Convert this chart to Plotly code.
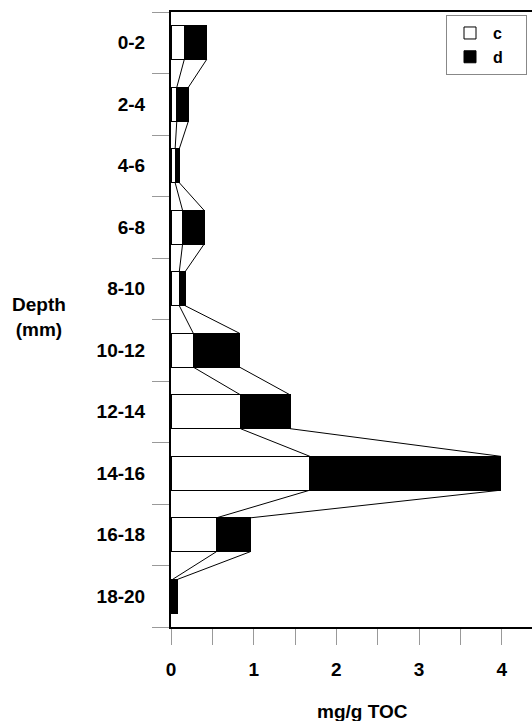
import plotly.graph_objects as go

# Depth intervals (top to bottom) and the two stacked components, mg/g TOC
depth = ["0-2", "2-4", "4-6", "6-8", "8-10", "10-12", "12-14", "14-16", "16-18", "18-20"]
series_names = ["c", "d"]
c_vals = [0.16, 0.07, 0.05, 0.14, 0.10, 0.27, 0.84, 1.68, 0.55, 0.02]
d_vals = [0.27, 0.14, 0.05, 0.26, 0.07, 0.56, 0.60, 2.31, 0.41, 0.06]
x_ticks = [0, 1, 2, 3, 4]

BAR_W = 0.55
FONT = "Liberation Sans, Arial, sans-serif"
PAD = "\u00a0" * 4  # right-hand padding inside the legend box

pos = list(range(len(depth)))
totals = [c + d for c, d in zip(c_vals, d_vals)]

fig = go.Figure()

fig.add_trace(go.Bar(
    y=pos, x=c_vals, orientation="h", width=BAR_W, name=series_names[0] + PAD,
    marker=dict(color="white", line=dict(color="black", width=1)),
))
fig.add_trace(go.Bar(
    y=pos, x=d_vals, orientation="h", width=BAR_W, name=series_names[1] + PAD,
    marker=dict(color="black", line=dict(color="black", width=1)),
))

# Series lines joining the segment ends of neighbouring bars
half = BAR_W / 2
for ends in (c_vals, totals):
    xs, ys = [], []
    for i in range(len(depth) - 1):
        xs += [ends[i], ends[i + 1], None]
        ys += [pos[i] + half, pos[i + 1] - half, None]
    fig.add_trace(go.Scatter(
        x=xs, y=ys, mode="lines", showlegend=False, hoverinfo="skip",
        line=dict(color="black", width=1),
    ))

x_max = (532 - 170.7) / 82.75

fig.update_layout(
    width=532, height=721,
    margin=dict(l=171, r=0, t=12, b=94),
    barmode="stack",
    plot_bgcolor="white", paper_bgcolor="white",
    font=dict(family=FONT, size=19, color="black", weight="bold"),
    legend=dict(
        x=(527 - 171) / 361, xanchor="right", y=0.995, yanchor="top",
        bgcolor="white", bordercolor="#888888", borderwidth=1,
        font=dict(size=16), traceorder="normal", itemwidth=36,
        tracegroupgap=0,
    ),
    xaxis=dict(
        range=[0, x_max], showgrid=False, zeroline=False,
        showline=True, linecolor="black", linewidth=1.5, mirror=True,
        tickmode="array", tickvals=x_ticks, ticktext=[str(v) for v in x_ticks],
        ticks="outside", ticklen=16, tickcolor="#999999", tickwidth=1,
        ticklabelstandoff=8,
        minor=dict(tickvals=[0.5, 1.5, 2.5, 3.5], ticks="outside",
                   ticklen=16, tickcolor="#999999", tickwidth=1),
    ),
    yaxis=dict(
        range=[len(depth) - 0.5, -0.5], showgrid=False, zeroline=False,
        showline=True, linecolor="black", linewidth=2,
        tickmode="array", tickvals=pos, ticktext=depth, ticks="",
        ticklabelstandoff=20,
        minor=dict(tickvals=[p - 0.5 for p in pos] + [len(depth) - 0.5],
                   ticks="outside", ticklen=17, tickcolor="#999999", tickwidth=1),
    ),
    annotations=[
        dict(text="Depth<br>(mm)", xref="paper", yref="paper",
             x=(39 - 171) / 361, y=(627 - 317) / 615,
             xanchor="center", yanchor="middle", showarrow=False,
             font=dict(size=19)),
        dict(text="mg/g TOC", xref="paper", yref="paper",
             x=(362 - 171) / 361, y=(627 - 711) / 615,
             xanchor="center", yanchor="middle", showarrow=False,
             font=dict(size=19)),
    ],
)

fig.write_html("out.html")
